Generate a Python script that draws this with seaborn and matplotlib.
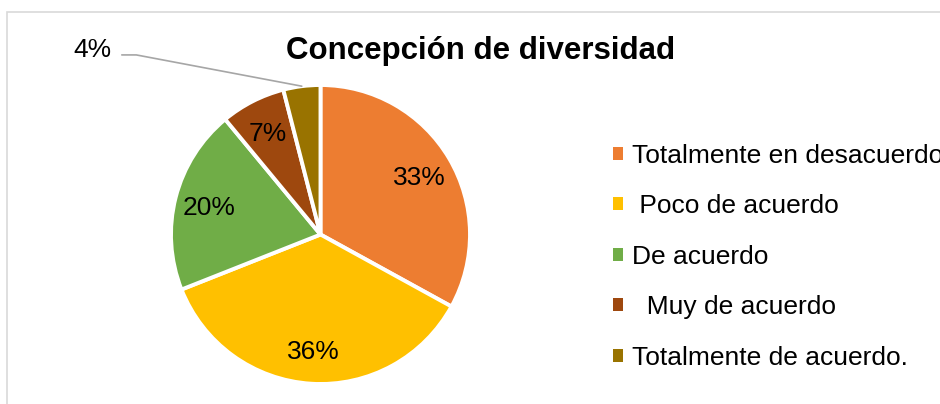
import numpy as np
import pandas as pd
import matplotlib
matplotlib.use("Agg")
import matplotlib.pyplot as plt
from matplotlib.patches import Patch, Rectangle
import seaborn as sns

# datos del gráfico
categorias = ["Totalmente en desacuerdo", " Poco de acuerdo", "De acuerdo",
              "  Muy de acuerdo", "Totalmente de acuerdo."]
porcentajes = [33, 36, 20, 7, 4]
colores = ["#ED7D31", "#FFC000", "#70AD47", "#9E480E", "#997300"]
titulo = "Concepción de diversidad"

sns.set_theme(style="white")
plt.rcParams["font.family"] = ["Liberation Sans", "DejaVu Sans"]
plt.rcParams["text.color"] = "black"

df = pd.DataFrame({"categoria": categorias, "pct": porcentajes, "color": colores})

fig = plt.figure(figsize=(9.4, 4.04), dpi=100)
fig.patch.set_facecolor("white")

# marco gris del área del gráfico
fig.add_artist(Rectangle((7.5 / 940, -0.2), 1.5, 0.9703 + 0.2, transform=fig.transFigure,
                         fill=False, edgecolor="#D9D9D9", linewidth=1.2))

ax = fig.add_axes([0.1819, 0.0495, 0.3181, 0.7401])

def etiqueta(p):
    # el 4% se pone fuera con línea guía
    return "" if p < 5 else f"{p:.0f}%"

wedges, textos, autotextos = ax.pie(
    df["pct"], colors=df["color"], startangle=90, counterclock=False,
    autopct=etiqueta, pctdistance=0.77, radius=1,
    wedgeprops=dict(edgecolor="white", linewidth=2.8),
    textprops=dict(fontsize=19, color="black"))
for t in autotextos:
    t.set_va("center_baseline")
ax.set_xlim(-1, 1)
ax.set_ylim(-1, 1)
ax.set_aspect("equal")
ax.axis("off")

# etiqueta externa del 4%
w = wedges[-1]
ang = np.deg2rad((w.theta1 + w.theta2) / 2)
ax.annotate(f"{df['pct'].iloc[-1]}%", xy=(np.cos(ang), np.sin(ang)), xytext=(-1.525, 1.25),
            ha="center", va="center_baseline", fontsize=19, color="black",
            annotation_clip=False,
            arrowprops=dict(arrowstyle="-", color="#A6A6A6", lw=1.2, relpos=(1.0, 0.3),
                            shrinkA=5, shrinkB=0,
                            connectionstyle="angle,angleA=0,angleB=-10.7,rad=0"))

fig.text(0.511, 1 - 51 / 404, titulo, ha="center", va="center",
         fontsize=22.5, fontweight="bold", color="black")

handles = [Patch(facecolor=c, edgecolor="none") for c in df["color"]]
fig.legend(handles, df["categoria"], loc="upper left", bbox_to_anchor=(0.6521, 0.6435),
           frameon=False, fontsize=19, handlelength=0.38, handleheight=0.38,
           handletextpad=0.35, labelspacing=1.0, borderpad=0, borderaxespad=0,
           labelcolor="black")

fig.savefig("out.png", dpi=100)
